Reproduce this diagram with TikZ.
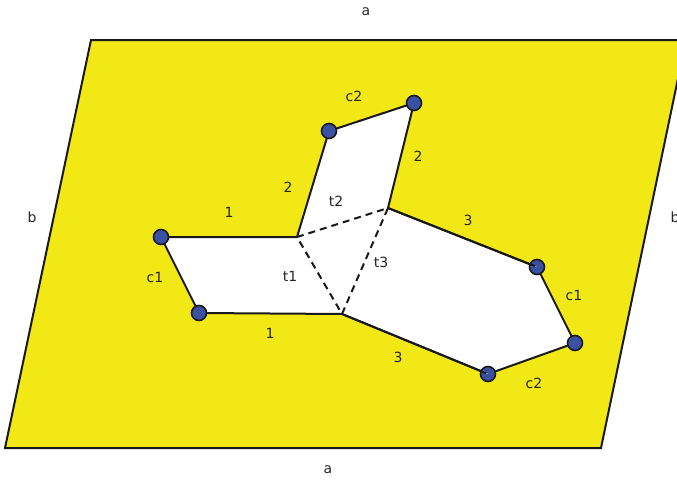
\documentclass[tikz,border=0pt]{standalone}
\usepackage{fontspec}
\setmainfont{DejaVu Sans}
\usetikzlibrary{calc}
\begin{document}
\begin{tikzpicture}[x=1pt,y=-1pt,
  lbl/.style={font=\fontsize{14}{16}\selectfont, text=black!85, inner sep=0pt},
  dot/.style={circle, fill=dotblue, draw=black!90, line width=1.6pt, minimum size=15pt, inner sep=0pt},
  edge/.style={line width=2pt, black!90},
  dsh/.style={line width=2pt, dash pattern=on 7pt off 5pt, black!90}]
\definecolor{yel}{RGB}{242,232,22}
\definecolor{dotblue}{RGB}{58,80,162}
\useasboundingbox (0,0) rectangle (677,479);
\begin{scope}
\clip (0,0) rectangle (677,479);
\filldraw[fill=yel, draw=black!90, line width=2pt] (5,448) -- (91,40) -- (686,40) -- (601,448) -- cycle;
\end{scope}
\coordinate (A) at (161,237);
\coordinate (B) at (297,237);
\coordinate (C) at (329,131);
\coordinate (D) at (414,103);
\coordinate (E) at (388,208);
\coordinate (F) at (537,267);
\coordinate (G) at (575,343);
\coordinate (H) at (488,374);
\coordinate (I) at (342,314);
\coordinate (J) at (199,313);
\fill[white] (A) -- (B) -- (C) -- (D) -- (E) -- (F) -- (G) -- (H) -- (I) -- (J) -- cycle;
\draw[edge, line join=round] (A) -- (B) -- (C) -- (D) -- (E) -- (F) -- (G) -- (H) -- (I) -- (J) -- cycle;
\draw[dsh] (B) -- (E) -- (I) -- cycle;
\foreach \p in {A,J,C,D,G,F,H} \node[dot] (n\p) at (\p) {};
\begin{scope}
\clip (F) circle (6pt);
\fill[white] (F) -- ($(F)!20pt!(E)$) -- ($(F)!20pt!12:(E)$) -- cycle;
\end{scope}
\begin{scope}
\clip (H) circle (6pt);
\fill[white] (H) -- ($(H)!20pt!(I)$) -- ($(H)!20pt!-12:(I)$) -- cycle;
\end{scope}
\draw[edge] (E) -- ($(F)!2pt!(E)$);
\draw[edge] (I) -- ($(H)!2pt!(I)$);
\node[lbl] (la1) at (366,12) {a};
\node[lbl] (la2) at (328,470) {a};
\node[lbl] (lb1) at (32,217) {b};
\node[lbl] (lb2) at (675,217) {b};
\node[lbl] (l1a) at (229,212) {1};
\node[lbl] (l1b) at (270,333) {1};
\node[lbl] (l2a) at (288,187) {2};
\node[lbl] (l2b) at (418,156) {2};
\node[lbl] (l3a) at (468,220) {3};
\node[lbl] (l3b) at (398,357) {3};
\node[lbl] (lc1a) at (155,277) {c1};
\node[lbl] (lc1b) at (574,295) {c1};
\node[lbl] (lc2a) at (354,96) {c2};
\node[lbl] (lc2b) at (534,383) {c2};
\node[lbl] (lt1) at (290,276) {t1};
\node[lbl] (lt2) at (336,201) {t2};
\node[lbl] (lt3) at (381,262) {t3};
\end{tikzpicture}
\end{document}
